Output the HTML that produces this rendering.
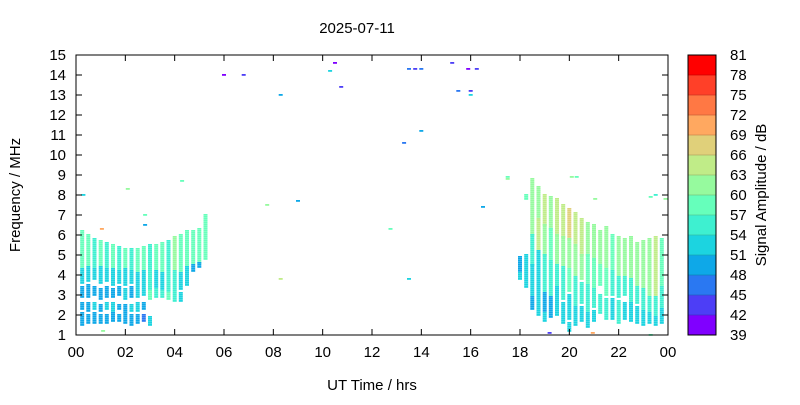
<!DOCTYPE html>
<html><head><meta charset="utf-8"><style>
body{margin:0;background:#fff}
svg text{font-family:"Liberation Sans",sans-serif;font-size:15px;fill:#000}
</style></head><body>
<svg id="c" width="800" height="400" xmlns="http://www.w3.org/2000/svg"></svg>
<script>
const xTickLabels=["00","02","04","06","08","10","12","14","16","18","20","22","00"];
const yTickLabels=[1,2,3,4,5,6,7,8,9,10,11,12,13,14,15];
const cbLabels=[39,42,45,48,51,54,57,60,63,66,69,72,75,78,81];
const cbColors=["#8000ff","#4d3ef6","#2a78f2","#0ea8e8","#1cd4e0","#3ef0d0","#66ffbb","#96fa9e","#c0ec88","#e0d07a","#ffa860","#ff7844","#ff4028","#ff0000"];
const colTimes=[0.25,0.5,0.75,1.0,1.25,1.5,1.75,2.0,2.25,2.5,2.75,3.0,3.25,3.5,3.75,4.0,4.25,4.5,4.75,5.0,5.25,
18.0,18.25,18.5,18.75,19.0,19.25,19.5,19.75,20.0,20.25,20.5,20.75,21.0,21.25,21.5,21.75,22.0,22.25,22.5,22.75,23.0,23.25,23.5,23.75];
const colSegs=[
"4.4-6.2:58,3.6-4.3:52,2.9-3.4:50,2.3-2.6:49,1.5-2.1:50",
"4.5-6.0:57,3.7-4.4:51,2.9-3.5:50,2.2-2.6:50,1.6-2.0:48",
"4.4-5.8:56,3.8-4.3:52,3.0-3.4:49,2.3-2.6:51,1.6-2.1:50",
"4.5-5.7:58,3.6-4.4:51,2.8-3.3:50,2.2-2.5:50,1.6-2.0:49",
"4.4-5.6:55,3.7-4.3:52,2.9-3.4:50,2.3-2.6:51,1.6-2.0:50",
"4.4-5.5:57,3.5-4.3:53,2.9-3.3:50,2.2-2.6:52,1.7-2.1:49",
"4.3-5.4:56,3.6-4.2:51,3.0-3.4:50,2.3-2.5:50,1.7-2.0:50",
"4.4-5.3:58,3.5-4.3:52,2.8-3.3:51,2.0-2.5:50,1.6-1.9:48",
"4.3-5.3:55,3.6-4.2:51,2.9-3.4:50,2.2-2.5:52,1.5-2.0:49",
"4.2-5.3:57,3.4-4.1:52,2.9-3.3:53,2.2-2.6:51,1.6-2.0:50",
"4.3-5.4:58,3.6-4.2:53,3.0-3.5:51,2.3-2.6:50,1.7-2.0:47",
"4.2-5.5:56,3.3-4.1:54,2.8-3.2:57,1.5-1.9:52",
"4.3-5.5:57,3.4-4.2:53,2.9-3.3:56",
"4.2-5.6:58,3.3-4.1:53,2.9-3.2:55",
"4.2-5.7:56,3.2-4.1:54,2.8-3.1:57",
"4.3-5.9:60,3.4-4.2:55,2.7-3.3:54",
"4.2-6.0:57,3.3-4.1:53,2.7-3.1:52",
"4.5-6.2:58,3.5-4.4:52",
"4.6-6.2:57,4.2-4.5:50",
"4.6-6.3:58,4.4-4.6:50",
"4.8-7.0:59",
"4.2-4.9:50,3.8-4.1:52",
"3.4-5.0:51,7.8-8.0:59",
"6.0-8.8:62,4.5-6.0:56,3.0-4.5:53,2.3-2.9:50",
"6.8-8.4:62,5.2-6.8:64,3.4-5.2:53,2.0-3.3:52",
"6.5-8.0:63,5.0-6.5:60,3.2-5.0:54,2.2-3.1:50,1.7-2.1:52",
"6.3-7.9:62,4.8-6.3:59,3.0-4.7:55,1.9-2.9:50",
"6.0-7.8:64,4.6-6.0:60,3.5-4.5:56,2.0-3.4:53",
"5.9-7.5:63,4.5-5.9:60,2.8-4.4:55,1.6-2.6:51",
"5.8-7.3:66,4.4-5.8:61,3.2-4.3:57,1.8-3.0:53,1.2-1.6:52",
"5.5-7.1:63,4.0-5.5:60,2.5-3.9:55,1.5-2.4:52",
"5.0-6.8:64,3.8-5.0:60,2.6-3.6:56,1.7-2.4:51",
"5.0-6.6:62,3.6-5.0:59,2.2-3.5:55,1.4-2.1:52",
"4.8-6.5:61,3.4-4.8:59,2.4-3.3:56,1.7-2.2:52",
"4.6-6.2:60,3.5-4.5:57,2.1-3.0:54",
"4.4-6.4:62,3.0-4.3:57,1.8-2.8:54",
"4.3-6.0:59,3.0-4.2:56,1.8-2.8:53",
"4.0-5.9:60,2.9-3.9:56,1.6-2.7:54",
"4.0-5.8:61,3.0-3.9:55,1.8-2.6:53",
"3.9-5.9:60,2.7-3.8:56,1.7-2.6:52",
"3.5-5.6:60,2.6-3.4:55,1.6-2.4:53",
"3.4-5.7:60,2.3-3.3:56,1.5-2.2:52",
"3.0-5.8:62,2.2-2.9:55,1.6-2.1:53",
"3.0-5.9:63,2.0-2.9:56,1.5-1.9:53",
"3.5-5.8:58,2.4-3.4:55,1.6-2.3:52"];
const ptTimes=[0.3,1.05,1.1,2.1,2.8,2.8,4.3,6.0,6.8,7.75,8.3,8.3,9.0,10.3,10.5,10.75,12.75,13.3,13.5,13.5,13.75,14.0,14.0,15.25,15.5,15.9,16.0,16.0,16.25,16.5,17.5,17.5,19.2,20.1,20.3,20.95,21.05,23.3,23.5,23.9,23.3];
const ptFreqs=[8.0,6.3,1.2,8.3,7.0,6.5,8.7,14.0,14.0,7.5,13.0,3.8,7.7,14.2,14.6,13.4,6.3,10.6,14.3,3.8,14.3,14.3,11.2,14.6,13.2,14.3,13.2,13.0,14.3,7.4,8.9,8.8,1.1,8.9,8.9,1.1,7.8,7.9,8.0,7.8,1.0];
const ptVals=[53,70,62,61,57,48,57,40,42,60,48,64,50,52,41,42,58,47,45,52,43,45,48,42,47,41,44,53,43,50,57,60,44,60,59,70,60,57,54,60,58];

const svg=document.getElementById('c');const NS="http://www.w3.org/2000/svg";
const L=76,R=668,T=55,B=335;
const xS=t=>L+t/24*(R-L), yS=f=>B-(f-1)/14*(B-T);
function mk(tag,at,par){const e=document.createElementNS(NS,tag);for(const k in at)e.setAttribute(k,at[k]);(par||svg).appendChild(e);return e;}
function col(v){let i=Math.floor((v-39)/3);return cbColors[Math.max(0,Math.min(13,i))];}
const marks=mk('g',{});


function cell(t,f,v){const r=mk('rect',{x:(xS(t)-2).toFixed(1),y:(yS(f)-1).toFixed(1),width:4,height:1.8,fill:col(v)},marks);

}
colTimes.forEach((t,i)=>{colSegs[i].split(',').forEach(s=>{const [rg,v]=s.split(':');const [lo,hi]=rg.split('-').map(Number);
for(let f=lo;f<=hi+1e-6;f+=0.1)cell(t,f,+v);});});
ptTimes.forEach((t,i)=>cell(t,ptFreqs[i],ptVals[i]));
const fr=mk('rect',{x:L,y:T,width:R-L,height:B-T,fill:'none',stroke:'#000','stroke-width':1});


xTickLabels.forEach((lb,i)=>{const x=xS(i*2);
mk('line',{x1:x,y1:B,x2:x,y2:B-6,stroke:'#000'});mk('line',{x1:x,y1:T,x2:x,y2:T+6,stroke:'#000'});
const tx=mk('text',{x:x,y:B+22,'text-anchor':'middle'});tx.textContent=lb;

});
yTickLabels.forEach(f=>{const y=yS(f);
mk('line',{x1:L,y1:y,x2:L+6,y2:y,stroke:'#000'});mk('line',{x1:R,y1:y,x2:R-6,y2:y,stroke:'#000'});
const tx=mk('text',{x:L-10,y:y+5,'text-anchor':'end'});tx.textContent=f;

});
const ti=mk('text',{x:357,y:33,'text-anchor':'middle'});ti.textContent='2025-07-11';


const xl=mk('text',{x:372,y:390,'text-anchor':'middle'});xl.textContent='UT Time / hrs';


const yl=mk('text',{x:20,y:195,'text-anchor':'middle',transform:'rotate(-90 20 195)'});yl.textContent='Frequency / MHz';


const cx=688,cw=28,cb=mk('g',{});


const ch=(B-T)/cbColors.length;
cbColors.forEach((c,i)=>mk('rect',{x:cx,y:B-(i+1)*ch,width:cw,height:ch+0.3,fill:c},cb));
mk('rect',{x:cx,y:T,width:cw,height:B-T,fill:'none',stroke:'#000'},cb);
cbLabels.forEach((v,i)=>{const y=B-i*ch;mk('line',{x1:cx,y1:y,x2:cx+cw,y2:y,stroke:'#000','stroke-opacity':0.15},cb);
const tx=mk('text',{x:730,y:y+5},cb);tx.textContent=v;

});
const cl=mk('text',{x:766,y:195,'text-anchor':'middle',transform:'rotate(-90 766 195)'});cl.textContent='Signal Amplitude / dB';


</script>
</body></html>
